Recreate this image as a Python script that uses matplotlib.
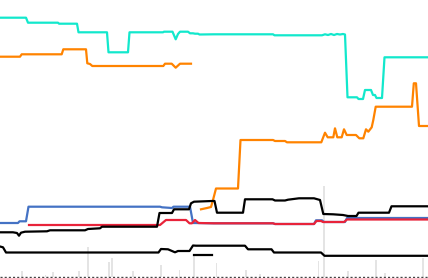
import numpy as np
import matplotlib
matplotlib.use("Agg")
import matplotlib.pyplot as plt

# ---- data (x position, value; value axis runs top-down) ----
cyan_x = [0, 26, 28, 58, 59, 77, 78.5, 107, 108.5, 128, 129.5, 163, 164, 172.5, 175.7, 178, 180, 188, 190, 193,
          195, 198, 199.5, 214, 273, 274.5, 322, 325, 328, 331, 334, 337, 340, 343, 345, 347.5, 357, 358.5, 363,
          365, 371, 373, 375, 376.5, 382, 384.5, 428]
cyan_y = [17.7, 17.7, 22.7, 22.7, 23.7, 23.7, 32.3, 32.3, 52.3, 52.3, 32.3, 32.3, 31.7, 31.7, 39.3, 34, 31.7, 31.7,
          33.3, 33.3, 33.7, 33.7, 34.5, 34.3, 34.3, 35.3, 35.3, 34.3, 35, 34, 35, 34, 34.5, 34, 34.5, 97.3, 97.3,
          99, 99, 90, 90, 95, 95, 98, 98, 57.3, 57.3]

orange_x = [0, 20, 21.7, 61.7, 63.3, 86, 87.3, 90, 92.3, 163.3, 165, 171.7, 175.7, 180, 191, np.nan,
            201, 207, 211, 213, 216, 238, 240.5, 273, 275, 285, 287, 321.3, 325, 327.7, 333.3, 335, 337.3, 341.7,
            344, 346.7, 356, 359.3, 363.3, 366, 368.3, 371.7, 373.3, 375.7, 412, 413.8, 416, 419, 428]
orange_y = [56.7, 56.7, 54.3, 54.3, 49.3, 49.3, 63.3, 64, 66, 66, 63.7, 63.7, 67.7, 63.7, 63.7, np.nan,
            209.3, 208, 207, 200, 188.5, 188.5, 140, 140, 141, 141, 142.3, 142.3, 132.7, 137.3, 137.3, 128.3, 137.3,
            137.3, 129.3, 135, 135, 138.3, 138.3, 129.3, 131.7, 127.3, 120, 106.7, 106.7, 83.3, 83.3, 126, 126]

blue_x = [0, 18, 19.5, 26, 28.5, 160, 162, 172, 173.5, 190, 193, 214, 273, 275, 314, 316, 322, 324, 345, 347, 428]
blue_y = [223, 223, 221.3, 221.3, 206.7, 206.7, 207.3, 208, 206.7, 206.7, 223, 223.3, 223.3, 224, 224, 220.3,
          220.3, 222, 222, 218, 218]

red_x = [29, 160, 166, 186, 189.5, 192, 195, 198.5, 214, 273, 275, 314, 316.5, 321, 323, 344, 347, 428]
red_y = [225, 225, 220, 220, 223.3, 223.3, 220, 223, 223.3, 223.3, 224, 224, 221, 221, 222, 222, 219.5, 219.5]

black1_x = [0, 13, 17, 19, 21, 25, 47, 50, 85, 88, 100, 102, 157, 159.5, 172, 174, 189, 191, 194, 212, 214.5,
            217, 243, 245, 272.5, 275, 285, 288, 299, 314, 320, 323.3, 333, 343, 348, 356.5, 358.5, 389, 391.5, 428]
black1_y = [232.3, 232.3, 233, 235.7, 232.7, 231.7, 231.3, 230.3, 230.3, 229, 228.3, 226.7, 226.7, 213, 213, 209.3,
            209.3, 203.3, 201.7, 201, 201, 212.7, 212.7, 199.3, 199.3, 200.5, 200.5, 199.7, 198.3, 198.3, 200, 214,
            214.3, 215, 216, 216, 212.7, 212.7, 206.3, 206.3]

black2_x = [0, 3, 6, 158.5, 161, 168, 175, 178, 189.5, 193, 196, 245, 248, 271.5, 274, 321, 324.5, 428]
black2_y = [246.5, 247.3, 252.5, 252.5, 249, 249.3, 252.3, 251, 251, 245.5, 245.7, 245.7, 249.3, 249.3, 252.5,
            252.5, 255.8, 255.8]

black3_x = [194.5, 212]
black3_y = [255.3, 255.3]

bar_x = [22, 45.5, 53, 79, 88, 109, 112, 133, 161, 179.5, 194, 216.5, 246, 260, 318.5, 324, 348, 376, 385, 423]
bar_v = [6, 2.3, 5, 6, 30.3, 14.7, 19, 6, 12.5, 7, 22.5, 14.5, 7, 2.7, 16, 91, 6, 17, 4.5, 19.5]
baseline = 277

# ---- drawing ----
fig = plt.figure(figsize=(4.28, 2.78), dpi=100)
ax = fig.add_axes([0, 0, 1, 1])
ax.set_xlim(0, 428)
ax.set_ylim(278, 0)
ax.axis("off")

ax.bar(bar_x, [-v for v in bar_v], bottom=baseline, width=1.4, color="#e4e4e4", zorder=1)
ax.axhline(277.4, color="#444444", lw=1.0, ls=(0, (1.5, 1.5)), zorder=1)

lw = 1.6
ax.plot(cyan_x, cyan_y, color="#12e8cc", lw=lw, zorder=3)
ax.plot(orange_x, orange_y, color="#ff8300", lw=lw, zorder=3)
ax.plot(blue_x, blue_y, color="#4472c4", lw=lw, zorder=3)
ax.plot(red_x, red_y, color="#e8233a", lw=lw, zorder=4)
ax.plot(black1_x, black1_y, color="#000000", lw=lw, zorder=5)
ax.plot(black2_x, black2_y, color="#000000", lw=lw, zorder=5)
ax.plot(black3_x, black3_y, color="#000000", lw=lw, zorder=5)

fig.savefig("out.png", dpi=100)
